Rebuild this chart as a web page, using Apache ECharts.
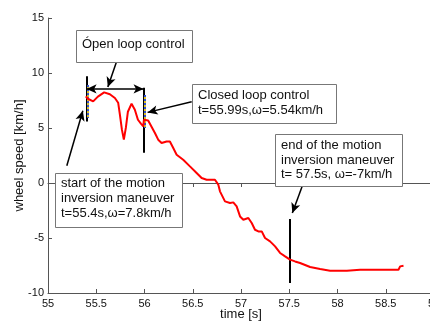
<!DOCTYPE html>
<html><head><meta charset="utf-8">
<script src="https://cdn.jsdelivr.net/npm/echarts@6/dist/echarts.min.js"></script>
<style>html,body{margin:0;padding:0;background:#fff}#c{width:430px;height:323px}</style>
</head><body><div id="c"></div>
<script>
// ---- data ----
const timeS = [55.392,55.413,55.468,55.517,55.582,55.641,55.693,55.727,55.745,55.766,55.786,55.807,55.828,55.866,55.900,55.932,55.963,55.987,55.994,56.038,56.056,56.108,56.142,56.177,56.229,56.263,56.298,56.333,56.401,56.471,56.540,56.592,56.644,56.730,56.765,56.782,56.834,56.886,56.920,56.955,56.990,57.024,57.076,57.111,57.145,57.180,57.215,57.249,57.301,57.353,57.405,57.457,57.508,57.560,57.612,57.716,57.820,57.923,58.097,58.234,58.442,58.632,58.649,58.684];
const wheelSpeed = [7.87,7.66,7.42,7.85,8.24,8.07,7.73,7.30,6.21,4.85,3.94,5.03,6.48,7.21,6.66,5.75,5.39,5.15,5.75,5.69,5.60,4.55,3.94,3.64,3.78,3.78,3.18,2.57,2.12,1.51,0.91,0.45,0.30,0.30,-0.15,-0.76,-1.67,-1.82,-1.76,-2.13,-3.04,-3.34,-3.18,-3.64,-4.25,-4.40,-4.40,-5.00,-5.31,-5.76,-6.36,-6.67,-6.97,-7.13,-7.27,-7.64,-7.82,-7.97,-7.97,-7.88,-7.88,-7.88,-7.58,-7.52];
// event marker lines: [t, vTop, vBottom]
const eventLines = [[55.4, 9.7, 5.6],[55.99, 8.66, 2.76],[57.5, -3.27, -9.09]];
// colored measurement strips: [t, vTop, vBottom]
const strips = [[55.41, 8.9, 5.9],[56.0, 8.0, 5.0]];
// open-loop span arrow: [tStart, tEnd, v]
const openLoopSpan = [55.4, 55.99, 8.55];
// annotation arrows: [tFrom, vFrom, tTo, vTo]
const annotArrows = [[55.711,11.05,55.62,8.72],[56.489,7.39,56.032,6.42],[55.195,1.57,55.361,6.57],[57.636,-0.25,57.532,-2.73]];
const xTicks = {min:55, max:59, interval:0.5};
const yTicks = {min:-10, max:15, interval:5};
const notes = [
  {lines:['Ópen loop control'], box:[76,30,116,32], textTop:37},
  {lines:['Closed loop control','t=55.99s,ω=5.54km/h'], box:[192,84,144,39], textTop:88.5},
  {lines:['start of the motion','inversion maneuver','t=55.4s,ω=7.8km/h'], box:[55,173,127,54], textTop:176.5},
  {lines:['end of the motion','inversion maneuver','t= 57.5s, ω=-7km/h'], box:[275,134,127,52], textTop:138}
];
// ---- chart ----
const FONT = '"Liberation Sans", Arial, sans-serif';
const chart = echarts.init(document.getElementById('c'), null, {renderer:'canvas'});
const axisCol = '#555';
const graphics = [];
notes.forEach(n => {
  graphics.push({type:'rect', shape:{x:n.box[0]+0.5,y:n.box[1]+0.5,width:n.box[2],height:n.box[3]},
    style:{fill:'#fff',stroke:'#777',lineWidth:1}, z:100});
  graphics.push({type:'text', x:n.box[0]+6, y:n.textTop, z:101,
    style:{text:n.lines.join('\n'), fill:'#111', font:'13px '+FONT, lineHeight:14.7, verticalAlign:'top'}});
});
const pairLine = (a,b) => [{coord:a},{coord:b}];
chart.setOption({
  animation:false,
  grid:{left:48, top:18, width:386, height:275, containLabel:false, outerBoundsMode:'none'},
  xAxis:[{type:'value', min:xTicks.min, max:xTicks.max, interval:xTicks.interval,
    name:'time [s]', nameLocation:'middle', nameGap:15, nameMoveOverlap:false,
    nameTextStyle:{fontFamily:FONT, fontSize:13, color:'#111'},
    axisLine:{show:true,onZero:false,lineStyle:{color:axisCol,width:1}},
    axisTick:{show:true,inside:true,length:4,lineStyle:{color:axisCol}},
    axisLabel:{fontFamily:FONT,fontSize:11,color:'#111',margin:5},
    splitLine:{show:false}},
   {type:'value', position:'top', min:xTicks.min, max:xTicks.max, interval:xTicks.interval,
    axisLine:{show:true,lineStyle:{color:axisCol,width:1}},
    axisTick:{show:true,inside:true,length:4,lineStyle:{color:axisCol}},
    axisLabel:{show:false}, splitLine:{show:false}}],
  yAxis:[{type:'value', min:yTicks.min, max:yTicks.max, interval:yTicks.interval,
    name:'wheel speed [km/h]', nameLocation:'middle', nameGap:22, nameRotate:90, nameMoveOverlap:false,
    nameTextStyle:{fontFamily:FONT, fontSize:13, color:'#111'},
    axisLine:{show:true,onZero:false,lineStyle:{color:axisCol,width:1}},
    axisTick:{show:true,inside:true,length:4,lineStyle:{color:axisCol}},
    axisLabel:{fontFamily:FONT,fontSize:11,color:'#111',margin:4},
    splitLine:{show:false}}],
  series:[
    {type:'line', data:timeS.map((t,i)=>[t,wheelSpeed[i]]), showSymbol:false, symbol:'none',
     lineStyle:{color:'#ff0000',width:2}, z:5,
     markLine:{silent:true, symbol:['none','none'], label:{show:false}, animation:false,
       lineStyle:{color:'#000',width:2,type:'solid'},
       data:eventLines.map(e=>pairLine([e[0],e[1]],[e[0],e[2]]))}},
    {type:'line', data:[], markLine:{silent:true, symbol:['none','none'], label:{show:false}, animation:false,
       lineStyle:{color:'#e0c020',width:2,type:'solid'},
       data:strips.map(s=>pairLine([s[0],s[1]],[s[0],s[2]]))}, z:6},
    {type:'line', data:[], markLine:{silent:true, symbol:['none','none'], label:{show:false}, animation:false,
       lineStyle:{color:'#3050d0',width:2,type:[2,2]},
       data:strips.map(s=>pairLine([s[0],s[1]],[s[0],s[2]]))}, z:7},
    {type:'line', data:[], markLine:{silent:true, symbol:['arrow','arrow'], symbolSize:[7,10], label:{show:false}, animation:false,
       lineStyle:{color:'#000',width:1.5,type:'solid'},
       data:[pairLine([openLoopSpan[0],openLoopSpan[2]],[openLoopSpan[1],openLoopSpan[2]])]}, z:8},
    {type:'line', data:[], markLine:{silent:true, symbol:['none','arrow'], symbolSize:[7,10], label:{show:false}, animation:false,
       lineStyle:{color:'#000',width:1.5,type:'solid'},
       data:annotArrows.map(a=>pairLine([a[0],a[1]],[a[2],a[3]]))}, z:8}
  ],
  graphic:graphics
});
</script></body></html>
